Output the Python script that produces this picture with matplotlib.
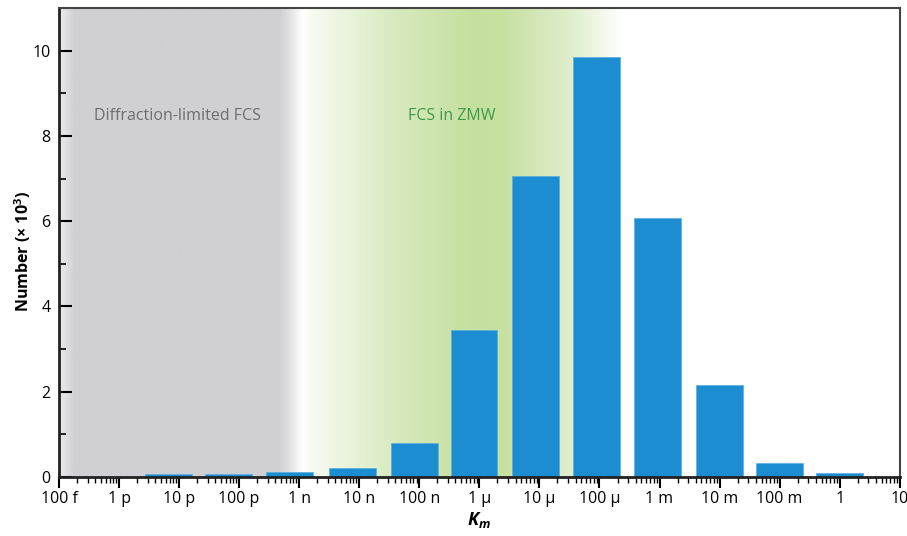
import numpy as np
import matplotlib.pyplot as plt
from matplotlib.colors import to_rgb
from matplotlib.ticker import FixedLocator, LogLocator, NullFormatter

plt.rcParams['font.family'] = ['Open Sans', 'DejaVu Sans']
plt.rcParams['mathtext.fontset'] = 'custom'
plt.rcParams['mathtext.it'] = 'Open Sans:italic:bold'
plt.rcParams['mathtext.rm'] = 'Open Sans:bold'

# bar positions (log10 of Km) and counts (x 10^3)
km_log = [-11.18, -10.17, -9.16, -8.11, -7.08, -6.09, -5.06, -4.05, -3.03, -2.0, -1.0, 0.0]
counts = [0.08, 0.08, 0.11, 0.22, 0.80, 3.45, 7.07, 9.84, 6.08, 2.16, 0.34, 0.09]

tick_exp = list(range(-13, 2))
tick_labels = ['100 f', '1 p', '10 p', '100 p', '1 n', '10 n', '100 n',
               '1 µ', '10 µ', '100 µ', '1 m', '10 m', '100 m', '1', '10']

fig = plt.figure(figsize=(9.07, 5.36), dpi=100)
ax = fig.add_axes([0.065, 0.110, 0.927, 0.875])
ax.set_xscale('log')
ax.set_xlim(1e-13, 10)
ax.set_ylim(0, 11)

# background shading: gray for diffraction-limited, green for ZMW
stops = [(0.000, '#ececee'), (0.018, '#d0d0d3'), (0.262, '#d0d0d3'),
         (0.275, '#e2e2e4'), (0.287, '#fcfcfc'), (0.291, '#ffffff'),
         (0.300, '#f7fbf1'), (0.405, '#d6e9bc'), (0.490, '#c5e09e'),
         (0.525, '#c6e0a0'), (0.570, '#d3e7b8'), (0.615, '#e2efd0'),
         (0.670, '#ffffff'), (1.000, '#ffffff')]
xs = np.linspace(0, 1, 900)
pos = [s[0] for s in stops]
cols = np.array([to_rgb(s[1]) for s in stops])
grad = np.stack([np.interp(xs, pos, cols[:, i]) for i in range(3)], axis=-1)
ax.imshow(grad[np.newaxis, :, :], extent=(0, 1, 0, 1), transform=ax.transAxes,
          aspect='auto', zorder=0, interpolation='bilinear')

centers = 10.0 ** np.array(km_log)
half = 0.39
ax.bar(centers * 10 ** -half, counts, width=centers * (10 ** half - 10 ** -half),
       align='edge', color='#1c8dd0', edgecolor='#5aaee0', linewidth=0.5, zorder=2)

ax.text(0.1415, 0.770, 'Diffraction-limited FCS', transform=ax.transAxes, fontsize=11.5,
        color='#6e6e6e', ha='center', va='center')
ax.text(0.467, 0.770, 'FCS in ZMW', transform=ax.transAxes, fontsize=11.5,
        color='#3d9a4a', ha='center', va='center')

ax.xaxis.set_major_locator(FixedLocator([10.0 ** e for e in tick_exp]))
ax.set_xticklabels(tick_labels)
ax.xaxis.set_minor_locator(LogLocator(base=10, subs=np.arange(2, 10), numticks=100))
ax.xaxis.set_minor_formatter(NullFormatter())
ax.tick_params(axis='x', which='major', direction='out', length=8, width=1.5,
               labelsize=11.5, pad=2)
ax.tick_params(axis='x', which='minor', direction='out', length=4, width=1)

ax.set_yticks(range(0, 11, 2))
ax.set_yticks(range(1, 11, 2), minor=True)
ax.tick_params(axis='y', which='major', direction='in', length=9, width=1.5,
               labelsize=11.5, pad=6)
ax.tick_params(axis='y', which='minor', direction='in', length=5, width=1.2)

for side in ['left', 'bottom']:
    ax.spines[side].set_linewidth(2)
    ax.spines[side].set_color('#222222')
for side in ['top', 'right']:
    ax.spines[side].set_linewidth(1.5)
    ax.spines[side].set_color('#444444')
ax.spines['bottom'].set_zorder(3)

ax.set_ylabel('Number (× 10$^3$)', fontsize=11.5, fontweight='bold')
ax.yaxis.set_label_coords(-0.031, 0.48)
ax.set_xlabel('$K_m$', fontsize=13, labelpad=2)

fig.savefig('out.png', dpi=100)
